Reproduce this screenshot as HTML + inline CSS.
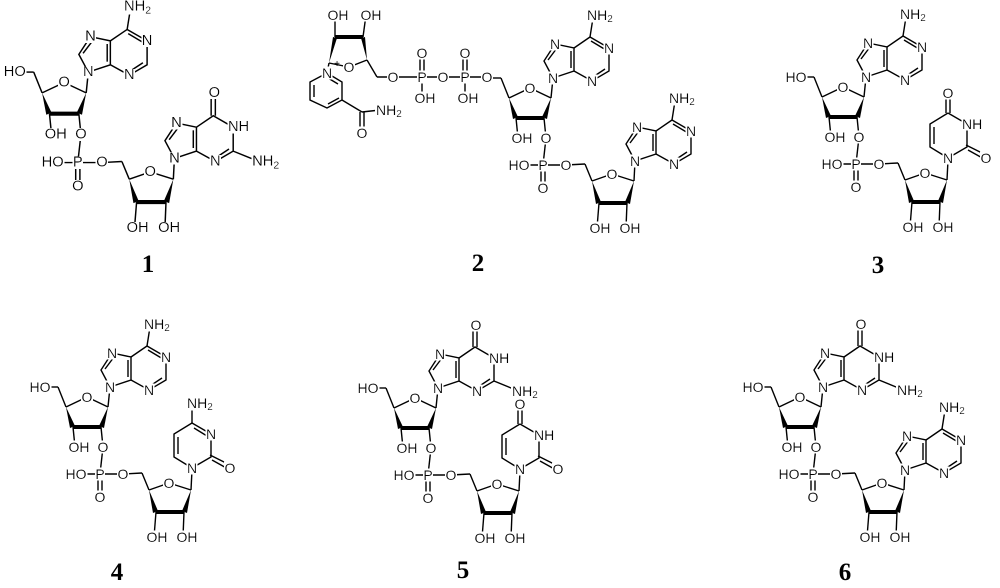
<!DOCTYPE html>
<html><head><meta charset="utf-8"><style>
html,body{margin:0;padding:0;background:#fff}
svg{display:block}
.t{font-family:"Liberation Sans",sans-serif;font-size:14px;text-anchor:middle;dominant-baseline:central;fill:#000;filter:url(#bg)}
.s{text-anchor:start}
.lab{font-family:"Liberation Serif",serif;font-weight:bold;font-size:25px;text-anchor:middle;fill:#000}
line,polyline,polygon.r{stroke:#000;stroke-width:1.4;fill:none}
</style></head><body>
<svg width="1000" height="588" viewBox="0 0 1000 588" xmlns="http://www.w3.org/2000/svg">
<defs>
<filter id="bg" x="-0.02" y="0.12" width="1.04" height="0.76"><feFlood flood-color="#fff"/><feMerge><feMergeNode/><feMergeNode in="SourceGraphic"/></feMerge></filter>
<g id="bb">
 <line x1="60" y1="77" x2="74" y2="77"/><line x1="74" y1="77" x2="82" y2="97"/>
 <line x1="82" y1="97" x2="103" y2="87"/><line x1="103" y1="87" x2="124" y2="97"/>
 <line x1="124" y1="97" x2="126" y2="77"/>
 <polygon points="82,97 86,118 91,116" fill="#000"/>
 <line x1="89" y1="117" x2="117" y2="117" style="stroke-width:4"/>
 <polygon points="124,97 115,116 120,118" fill="#000"/>
 <line x1="89" y1="117" x2="91" y2="137"/><line x1="117" y1="117" x2="119" y2="137"/>
 <line x1="119" y1="137" x2="116" y2="164"/>
 <line x1="92" y1="164" x2="139" y2="164"/>
 <line x1="114" y1="164" x2="114" y2="187"/><line x1="118" y1="164" x2="118" y2="187"/>
 <line x1="139" y1="164" x2="158" y2="163"/><line x1="158" y1="163" x2="165" y2="180"/>
 <line x1="165" y1="180" x2="185" y2="173"/><line x1="185" y1="173" x2="207" y2="180"/>
 <line x1="207" y1="180" x2="208" y2="160"/>
 <polygon points="165,180 169,203 174,201" fill="#000"/>
 <line x1="172" y1="202" x2="200" y2="202" style="stroke-width:4"/>
 <polygon points="207,180 198,201 203,203" fill="#000"/>
 <line x1="172" y1="202" x2="170" y2="227"/><line x1="200" y1="202" x2="199" y2="227"/>
</g>
<g id="pur">
 <polyline points="126,77 117,60 128,43 147,47 147,70 126,77"/>
 <line x1="121" y1="59" x2="130" y2="47"/><line x1="144" y1="50" x2="144" y2="67"/>
 <polyline points="147,47 163,36 182,47 182,70 165,80 147,70"/>
</g>
<g id="ade">
 <use href="#pur"/>
 <line x1="164" y1="40" x2="179" y2="49"/><line x1="178" y1="68" x2="166" y2="76"/>
 <line x1="163" y1="36" x2="166" y2="17"/>
</g>
<g id="gua">
 <use href="#pur"/>
 <line x1="178" y1="68" x2="166" y2="76"/>
 <line x1="161" y1="36" x2="161" y2="16"/><line x1="165" y1="36" x2="165" y2="16"/>
 <line x1="182" y1="70" x2="204" y2="79"/>
</g>
<g id="pyr">
 <polyline points="208,113 227,124 227,147 208,158 190,147 190,124 208,113"/>
 <line x1="194" y1="127" x2="194" y2="144"/>
 <line x1="226" y1="145" x2="246" y2="155"/><line x1="228" y1="150" x2="246" y2="160"/>
</g>
<g id="ura"><use href="#pyr"/>
 <line x1="206" y1="113" x2="206" y2="94"/><line x1="210" y1="113" x2="210" y2="94"/></g>
<g id="cyt"><use href="#pyr"/>
 <line x1="208" y1="113" x2="208" y2="98"/><line x1="210" y1="118" x2="223" y2="126"/></g>
</defs>

<!-- Molecule 1 -->
<g transform="translate(-44,-8) scale(1.05,1.04)">
 <use href="#bb"/><use href="#ade"/><use href="#gua" transform="translate(82,83)"/>
 <text class="t" x="56" y="77">HO</text><text class="t" x="103" y="87">O</text>
 <text class="t" x="95" y="137">OH</text><text class="t" x="119" y="137">O</text>
 <text class="t" x="116" y="164">P</text><text class="t" x="92" y="164">HO</text>
 <text class="t" x="116" y="187">O</text><text class="t" x="139" y="164">O</text>
 <text class="t" x="185" y="173">O</text><text class="t" x="173" y="227">OH</text><text class="t" x="203" y="227">OH</text>
 <text class="t" x="128" y="43">N</text><text class="t" x="182" y="47">N</text><text class="t" x="165" y="80">N</text><text class="t" x="126" y="77">N</text>
 <text class="t s" x="160" y="14">NH<tspan font-size="10" dy="4">2</tspan></text>
 <text class="t" x="210" y="126">N</text><text class="t" x="247" y="163">N</text><text class="t" x="208" y="160">N</text>
 <text class="t s" x="259" y="130">NH</text><text class="t" x="246" y="97">O</text>
 <text class="t s" x="282" y="163">NH<tspan font-size="10" dy="4">2</tspan></text>
</g>
<text class="lab" x="148" y="272">1</text>

<!-- Molecule 2 -->
<g transform="translate(427,1)">
 <use href="#bb"/><use href="#ade"/><use href="#ade" transform="translate(82,83)"/>
 <text class="t" x="60" y="76">O</text><text class="t" x="103" y="87">O</text>
 <text class="t" x="95" y="137">OH</text><text class="t" x="119" y="137">O</text>
 <text class="t" x="116" y="164">P</text><text class="t" x="92" y="164">HO</text>
 <text class="t" x="116" y="187">O</text><text class="t" x="139" y="164">O</text>
 <text class="t" x="185" y="173">O</text><text class="t" x="173" y="227">OH</text><text class="t" x="203" y="227">OH</text>
 <text class="t" x="128" y="43">N</text><text class="t" x="182" y="47">N</text><text class="t" x="165" y="80">N</text><text class="t" x="126" y="77">N</text>
 <text class="t s" x="160" y="14">NH<tspan font-size="10" dy="4">2</tspan></text>
 <text class="t" x="210" y="126">N</text><text class="t" x="264" y="130">N</text><text class="t" x="247" y="163">N</text><text class="t" x="208" y="160">N</text>
 <text class="t s" x="242" y="97">NH<tspan font-size="10" dy="4">2</tspan></text>
</g>
<g>
 <line x1="487" y1="77" x2="377" y2="77"/><line x1="377" y1="77" x2="367" y2="60"/>
 <line x1="420" y1="77" x2="420" y2="53"/><line x1="424" y1="77" x2="424" y2="53"/>
 <line x1="463" y1="77" x2="463" y2="53"/><line x1="467" y1="77" x2="467" y2="53"/>
 <line x1="422" y1="77" x2="422" y2="98"/><line x1="465" y1="77" x2="465" y2="98"/>
 <polyline points="329,63 349,67 367,60"/>
 <polygon points="329,63 333,37 337,38" fill="#000"/>
 <line x1="335" y1="37" x2="363" y2="37" style="stroke-width:4"/>
 <polygon points="367,60 361,38 365,37" fill="#000"/>
 <line x1="335" y1="37" x2="335" y2="15"/><line x1="363" y1="37" x2="366" y2="15"/>
 <line x1="329" y1="63" x2="327" y2="73"/>
 <polyline points="327,73 342,82 342,100 327,108 310,100 310,82 327,73"/>
 <line x1="328" y1="78" x2="338" y2="84"/><line x1="314" y1="85" x2="314" y2="97"/><line x1="328" y1="104" x2="339" y2="98"/>
 <line x1="342" y1="100" x2="362" y2="112"/><line x1="362" y1="112" x2="380" y2="110"/>
 <line x1="360" y1="112" x2="360" y2="133"/><line x1="364" y1="112" x2="364" y2="133"/>
 <text class="t" x="487" y="77">O</text><text class="t" x="465" y="77">P</text><text class="t" x="443" y="77">O</text>
 <text class="t" x="422" y="77">P</text><text class="t" x="393" y="77">O</text>
 <text class="t" x="422" y="53">O</text><text class="t" x="465" y="53">O</text>
 <text class="t" x="425" y="98">OH</text><text class="t" x="468" y="98">OH</text>
 <text class="t" x="349" y="67">O</text>
 <text class="t" x="338" y="15">OH</text><text class="t" x="371" y="15">OH</text>
 <text class="t" x="327" y="73">N</text><text x="337" y="67" font-family="Liberation Sans" font-size="10" text-anchor="middle">+</text>
 <text class="t" x="362" y="133">O</text>
 <text class="t s" x="376" y="110">NH<tspan font-size="10" dy="4">2</tspan></text>
</g>
<text class="lab" x="478" y="271">2</text>

<!-- Molecule 3 -->
<g transform="translate(740,0)">
 <use href="#bb"/><use href="#ade"/><use href="#ura"/>
 <text class="t" x="56" y="77">HO</text><text class="t" x="103" y="87">O</text>
 <text class="t" x="95" y="137">OH</text><text class="t" x="119" y="137">O</text>
 <text class="t" x="116" y="164">P</text><text class="t" x="92" y="164">HO</text>
 <text class="t" x="116" y="187">O</text><text class="t" x="139" y="164">O</text>
 <text class="t" x="185" y="173">O</text><text class="t" x="173" y="227">OH</text><text class="t" x="203" y="227">OH</text>
 <text class="t" x="128" y="43">N</text><text class="t" x="182" y="47">N</text><text class="t" x="165" y="80">N</text><text class="t" x="126" y="77">N</text>
 <text class="t s" x="160" y="14">NH<tspan font-size="10" dy="4">2</tspan></text>
 <text class="t" x="208" y="93">O</text><text class="t s" x="222" y="124">NH</text>
 <text class="t" x="208" y="158">N</text><text class="t" x="246" y="158">O</text>
</g>
<text class="lab" x="878" y="273">3</text>

<!-- Molecule 4 -->
<g transform="translate(-16,310)">
 <use href="#bb"/><use href="#ade"/><use href="#cyt"/>
 <text class="t" x="56" y="77">HO</text><text class="t" x="103" y="87">O</text>
 <text class="t" x="95" y="137">OH</text><text class="t" x="119" y="137">O</text>
 <text class="t" x="116" y="164">P</text><text class="t" x="92" y="164">HO</text>
 <text class="t" x="116" y="187">O</text><text class="t" x="139" y="164">O</text>
 <text class="t" x="185" y="173">O</text><text class="t" x="173" y="227">OH</text><text class="t" x="203" y="227">OH</text>
 <text class="t" x="128" y="43">N</text><text class="t" x="182" y="47">N</text><text class="t" x="165" y="80">N</text><text class="t" x="126" y="77">N</text>
 <text class="t s" x="160" y="14">NH<tspan font-size="10" dy="4">2</tspan></text>
 <text class="t s" x="203" y="93">NH<tspan font-size="10" dy="4">2</tspan></text><text class="t" x="227" y="124">N</text>
 <text class="t" x="208" y="158">N</text><text class="t" x="246" y="158">O</text>
</g>
<text class="lab" x="117" y="580">4</text>

<!-- Molecule 5 -->
<g transform="translate(312,311)">
 <use href="#bb"/><use href="#gua"/><use href="#ura"/>
 <text class="t" x="56" y="77">HO</text><text class="t" x="103" y="87">O</text>
 <text class="t" x="95" y="137">OH</text><text class="t" x="119" y="137">O</text>
 <text class="t" x="116" y="164">P</text><text class="t" x="92" y="164">HO</text>
 <text class="t" x="116" y="187">O</text><text class="t" x="139" y="164">O</text>
 <text class="t" x="185" y="173">O</text><text class="t" x="173" y="227">OH</text><text class="t" x="203" y="227">OH</text>
 <text class="t" x="128" y="43">N</text><text class="t" x="165" y="80">N</text><text class="t" x="126" y="77">N</text>
 <text class="t" x="164" y="14">O</text><text class="t s" x="177" y="47">NH</text>
 <text class="t s" x="200" y="80">NH<tspan font-size="10" dy="4">2</tspan></text>
 <text class="t" x="208" y="93">O</text><text class="t s" x="222" y="124">NH</text>
 <text class="t" x="208" y="158">N</text><text class="t" x="246" y="158">O</text>
</g>
<text class="lab" x="463" y="578">5</text>

<!-- Molecule 6 -->
<g transform="translate(697,310)">
 <use href="#bb"/><use href="#gua"/><use href="#ade" transform="translate(82,83)"/>
 <text class="t" x="56" y="77">HO</text><text class="t" x="103" y="87">O</text>
 <text class="t" x="95" y="137">OH</text><text class="t" x="119" y="137">O</text>
 <text class="t" x="116" y="164">P</text><text class="t" x="92" y="164">HO</text>
 <text class="t" x="116" y="187">O</text><text class="t" x="139" y="164">O</text>
 <text class="t" x="185" y="173">O</text><text class="t" x="173" y="227">OH</text><text class="t" x="203" y="227">OH</text>
 <text class="t" x="128" y="43">N</text><text class="t" x="165" y="80">N</text><text class="t" x="126" y="77">N</text>
 <text class="t" x="164" y="14">O</text><text class="t s" x="177" y="47">NH</text>
 <text class="t s" x="200" y="80">NH<tspan font-size="10" dy="4">2</tspan></text>
 <text class="t" x="210" y="126">N</text><text class="t" x="264" y="130">N</text><text class="t" x="247" y="163">N</text><text class="t" x="208" y="160">N</text>
 <text class="t s" x="242" y="97">NH<tspan font-size="10" dy="4">2</tspan></text>
</g>
<text class="lab" x="845" y="580">6</text>
</svg>
</body></html>
